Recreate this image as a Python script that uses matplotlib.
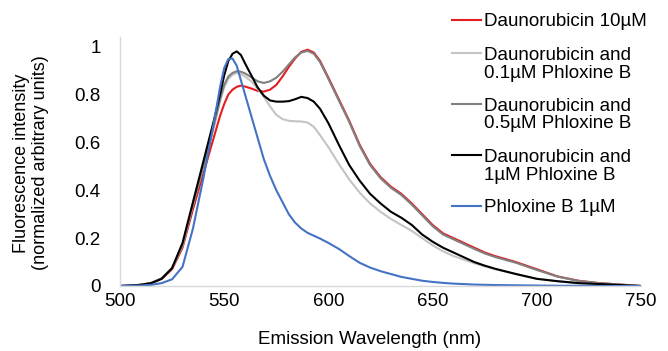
import matplotlib.pyplot as plt
from matplotlib.lines import Line2D

plt.rcParams['font.family'] = ['Liberation Sans', 'DejaVu Sans']

# =========================
# data
# =========================
wavelength = [500, 505, 510, 515, 520, 525, 530, 535, 540, 545, 548, 550, 552, 554, 556,
              558, 560, 563, 566, 569, 572, 575, 578, 581, 584, 587, 590, 593, 596, 600,
              605, 610, 615, 620, 625, 630, 635, 640, 645, 650, 655, 660, 665, 670, 675,
              680, 690, 700, 710, 720, 730, 740, 750]

dauno_10 = [0, 0.002, 0.005, 0.012, 0.03, 0.07, 0.16, 0.32, 0.47, 0.62, 0.71, 0.76, 0.80, 0.82, 0.832,
            0.837, 0.833, 0.825, 0.815, 0.812, 0.82, 0.84, 0.875, 0.915, 0.95, 0.978, 0.987, 0.975, 0.94, 0.87,
            0.78, 0.69, 0.59, 0.51, 0.455, 0.415, 0.385, 0.345, 0.30, 0.255, 0.22, 0.20, 0.18, 0.16, 0.14,
            0.125, 0.10, 0.07, 0.04, 0.022, 0.012, 0.006, 0]

dauno_pb01 = [0, 0.002, 0.005, 0.013, 0.032, 0.075, 0.17, 0.34, 0.50, 0.66, 0.77, 0.83, 0.865, 0.882, 0.89,
              0.885, 0.875, 0.855, 0.825, 0.79, 0.75, 0.715, 0.697, 0.69, 0.688, 0.687, 0.683, 0.665, 0.63, 0.58,
              0.51, 0.445, 0.39, 0.345, 0.31, 0.28, 0.255, 0.23, 0.20, 0.17, 0.145, 0.125, 0.11, 0.095, 0.082,
              0.07, 0.05, 0.03, 0.02, 0.012, 0.008, 0.004, 0]

dauno_pb05 = [0, 0.002, 0.005, 0.013, 0.032, 0.075, 0.17, 0.34, 0.50, 0.67, 0.78, 0.84, 0.875, 0.89, 0.897,
              0.895, 0.888, 0.872, 0.855, 0.848, 0.855, 0.87, 0.895, 0.925, 0.955, 0.975, 0.982, 0.97, 0.935, 0.865,
              0.775, 0.685, 0.585, 0.505, 0.45, 0.41, 0.38, 0.34, 0.295, 0.25, 0.215, 0.195, 0.175, 0.155, 0.136,
              0.121, 0.097, 0.067, 0.039, 0.021, 0.012, 0.006, 0]

dauno_pb1 = [0, 0.002, 0.005, 0.012, 0.03, 0.075, 0.18, 0.35, 0.52, 0.69, 0.80, 0.88, 0.94, 0.97, 0.98,
             0.965, 0.93, 0.88, 0.83, 0.795, 0.775, 0.77, 0.77, 0.772, 0.78, 0.79, 0.785, 0.77, 0.74, 0.68,
             0.59, 0.505, 0.44, 0.385, 0.345, 0.31, 0.285, 0.255, 0.215, 0.185, 0.16, 0.14, 0.12, 0.10, 0.085,
             0.072, 0.05, 0.03, 0.02, 0.012, 0.008, 0.004, 0]

phloxine_1 = [0, 0.001, 0.002, 0.005, 0.012, 0.028, 0.08, 0.24, 0.45, 0.68, 0.83, 0.91, 0.948, 0.95, 0.92,
              0.86, 0.80, 0.71, 0.62, 0.53, 0.46, 0.40, 0.35, 0.30, 0.265, 0.24, 0.222, 0.21, 0.198, 0.18,
              0.155, 0.125, 0.097, 0.077, 0.062, 0.05, 0.038, 0.03, 0.022, 0.017, 0.013, 0.01, 0.008, 0.006, 0.005,
              0.004, 0.003, 0.002, 0.001, 0.001, 0, 0, 0]

series = [
    ("Daunorubicin 10\u00b5M", dauno_10, "#e41e1e"),
    ("Daunorubicin and\n0.1\u00b5M Phloxine B", dauno_pb01, "#c4c4c4"),
    ("Daunorubicin and\n0.5\u00b5M Phloxine B", dauno_pb05, "#808080"),
    ("Daunorubicin and\n1\u00b5M Phloxine B", dauno_pb1, "#000000"),
    ("Phloxine B 1\u00b5M", phloxine_1, "#4472c4"),
]

x_ticks = [500, 550, 600, 650, 700, 750]
y_ticks = [0, 0.2, 0.4, 0.6, 0.8, 1]
y_tick_labels = ["0", "0.2", "0.4", "0.6", "0.8", "1"]

# =========================
# plot
# =========================
W, H = 668, 351
fig = plt.figure(figsize=(W / 100, H / 100), dpi=100)
ax = fig.add_axes([120 / W, 1 - 286 / H, 521 / W, (286 - 37) / H])

for label, y, color in series:
    ax.plot(wavelength, y, color=color, linewidth=1.5, label=label)

ax.set_xlim(500, 750)
ax.set_ylim(0, 1.04)
ax.set_xticks(x_ticks)
ax.set_yticks(y_ticks)
ax.set_yticklabels(y_tick_labels)
ax.tick_params(axis='both', length=0, labelsize=13.5)
ax.tick_params(axis='x', pad=5)
ax.tick_params(axis='y', pad=14)

for side in ["top", "right"]:
    ax.spines[side].set_visible(False)
for side in ["left", "bottom"]:
    ax.spines[side].set_color("#d9d9d9")
    ax.spines[side].set_linewidth(1.0)

fig.text(370 / W, 1 - 339 / H, "Emission Wavelength (nm)", fontsize=13.5,
         ha="center", va="center")
fig.text(31 / W, 1 - 163 / H, "Fluorescence intensity\n(normalized arbitrary units)",
         fontsize=13, rotation=90, ha="center", va="center", linespacing=1.1,
         multialignment="center")

# =========================
# legend (handle sits on the first text line, like the original)
# =========================
y_px = 20
for label, _, color in series:
    yf = 1 - y_px / H
    fig.add_artist(Line2D([452 / W, 481 / W], [yf, yf], color=color, lw=1.5,
                          transform=fig.transFigure))
    for i, line in enumerate(label.split("\n")):
        fig.text(484 / W, 1 - (y_px + 18 * i + 6.5) / H, line, fontsize=13.5,
                 ha="left", va="baseline")
    y_px += 18 * (label.count("\n") + 1) + 15

fig.savefig("out.png", dpi=100)
